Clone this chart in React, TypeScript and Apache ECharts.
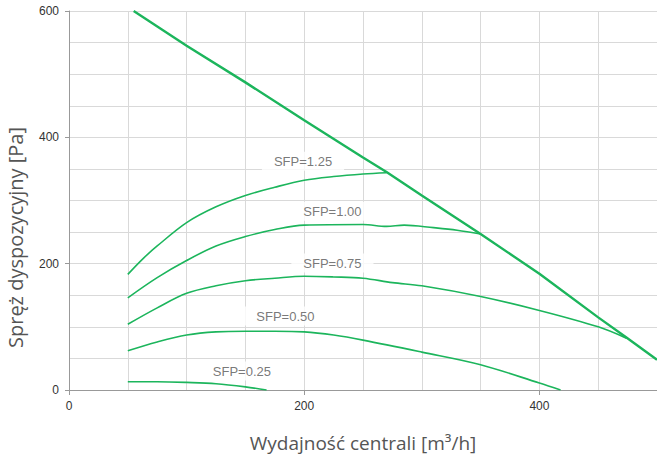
import React, { useEffect, useRef } from "react";
import * as echarts from "echarts";

const maxLine: [number, number][] = [
  [55, 600], [100, 545], [150, 487], [200, 427], [250, 368], [270, 345],
  [300, 308], [350, 247], [400, 184], [450, 115], [474, 83], [500, 48],
];
const sfp125: [number, number][] = [
  [50, 183], [63, 208], [75, 228], [100, 265], [125, 290], [150, 308], [175, 321],
  [200, 332], [225, 338], [250, 342], [270, 344],
];
const sfp100: [number, number][] = [
  [50, 146], [75, 178], [100, 205], [125, 228], [150, 243], [175, 254], [200, 261],
  [250, 262], [270, 259], [285, 261], [310, 257], [330, 253], [350, 247],
];
const sfp075: [number, number][] = [
  [50, 104], [75, 130], [100, 153], [125, 165], [150, 173], [175, 177], [200, 180],
  [225, 179], [250, 177], [275, 170], [300, 165], [350, 148], [400, 126], [450, 100], [474, 82],
];
const sfp050: [number, number][] = [
  [50, 62], [75, 76], [100, 87], [125, 92], [150, 93], [175, 93], [200, 92],
  [225, 87], [250, 79], [300, 60], [350, 40], [400, 11], [418, 0],
];
const sfp025: [number, number][] = [
  [50, 13], [75, 13], [100, 12], [125, 10], [150, 5], [168, 0],
];
const sfpLabels: { name: string; value: [number, number] }[] = [
  { name: "SFP=1.25", value: [199, 362] },
  { name: "SFP=1.00", value: [224, 283] },
  { name: "SFP=0.75", value: [224, 201] },
  { name: "SFP=0.50", value: [184, 117] },
  { name: "SFP=0.25", value: [147, 30] },
];

const GREEN = "#1cb55c";

export default function App() {
  const ref = useRef<HTMLDivElement>(null);
  useEffect(() => {
    if (!ref.current) return;
    const chart = echarts.init(ref.current, null, { renderer: "svg" });
    const curve = (data: [number, number][]) => ({
      type: "line",
      data,
      smooth: 0.35,
      symbol: "none",
      lineStyle: { color: GREEN, width: 1.6 },
      z: 3,
    });
    chart.setOption({
      animation: false,
      backgroundColor: "#fff",
      grid: { left: 69, top: 11, right: 0, bottom: 67, containLabel: false, outerBoundsMode: "none" },
      xAxis: [
        {
          type: "value", min: 0, max: 500, interval: 200,
          name: "Wydajność centrali [m³/h]", nameLocation: "middle", nameGap: 43,
          nameTextStyle: { fontFamily: "Open Sans", fontSize: 19, color: "#555" },
          axisLine: { show: true, lineStyle: { color: "#999", width: 1 } },
          axisTick: { show: true, length: 5, lineStyle: { color: "#999" } },
          axisLabel: { showMaxLabel: false, margin: 10, fontFamily: "Liberation Sans", fontSize: 12, color: "#333" },
          splitLine: { show: false },
        },
        {
          type: "value", min: 0, max: 500, interval: 50, position: "bottom",
          axisLine: { show: false }, axisTick: { show: false }, axisLabel: { show: false },
          splitLine: { show: true, lineStyle: { color: "#d9d9d9", width: 1 } },
        },
      ],
      yAxis: [
        {
          type: "value", min: 0, max: 600, interval: 200,
          name: "Spręż dyspozycyjny [Pa]", nameLocation: "middle", nameGap: 44,
          nameTextStyle: { fontFamily: "Open Sans", fontSize: 20, color: "#555", padding: [0, 74, 0, 0] },
          axisLine: { show: true, lineStyle: { color: "#999", width: 1 } },
          axisTick: { show: true, length: 4, lineStyle: { color: "#999" } },
          axisLabel: { margin: 10, fontFamily: "Liberation Sans", fontSize: 12, color: "#333" },
          splitLine: { show: false },
        },
        {
          type: "value", min: 0, max: 600, interval: 50,
          axisLine: { show: false }, axisTick: { show: false }, axisLabel: { show: false },
          splitLine: { show: true, lineStyle: { color: "#d9d9d9", width: 1 } },
        },
      ],
      series: [
        {
          type: "line", data: maxLine, symbol: "none", smooth: false,
          lineStyle: { color: GREEN, width: 2.4 }, z: 4,
        },
        curve(sfp125), curve(sfp100), curve(sfp075), curve(sfp050), curve(sfp025),
        {
          type: "scatter",
          data: sfpLabels,
          symbolSize: 0,
          z: 5,
          label: {
            show: true, position: "inside", formatter: "{b}",
            fontFamily: "Liberation Sans", fontSize: 13, color: "#555",
            backgroundColor: "#fff", padding: [3, 12],
          },
        },
      ],
    });
    return () => chart.dispose();
  }, []);
  return <div ref={ref} style={{ width: 657, height: 457, position: "absolute", left: 0, top: 0 }} />;
}
